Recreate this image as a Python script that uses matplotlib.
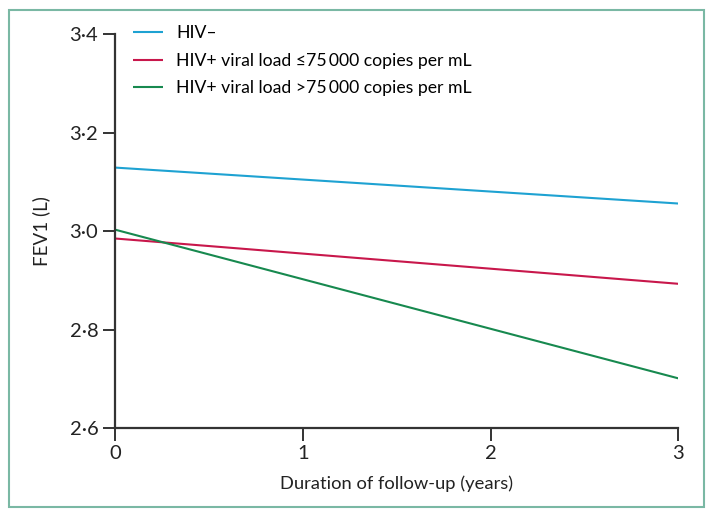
import matplotlib
matplotlib.use('Agg')
import matplotlib.pyplot as plt
from matplotlib.patches import Rectangle

plt.rcParams['font.family'] = ['Lato', 'DejaVu Sans']

years = [0, 3]
hiv_neg = [3.129, 3.056]
hiv_low = [2.985, 2.893]
hiv_high = [3.003, 2.701]
labels = ['HIV\u2013', 'HIV+ viral load \u226475\u2009000 copies per mL', 'HIV+ viral load >75\u2009000 copies per mL']
colors = ['#1ea2d2', '#c8174b', '#17894f']
yticks = [2.6, 2.8, 3.0, 3.2, 3.4]
xticks = [0, 1, 2, 3]

fig = plt.figure(figsize=(7.14, 5.17), dpi=100)
ax = fig.add_axes([0.161, 0.172, 0.789, 0.762])

for vals, lab, c in zip([hiv_neg, hiv_low, hiv_high], labels, colors):
    ax.plot(years, vals, color=c, lw=1.5, label=lab, solid_capstyle='butt')

ax.set_xlim(0, 3)
ax.set_ylim(2.6, 3.4)
ax.set_xticks(xticks)
ax.set_xticklabels([str(x) for x in xticks])
ax.set_yticks(yticks)
ax.set_yticklabels([f'{v:.1f}'.replace('.', '\u00b7') for v in yticks])
for s in ['top', 'right']:
    ax.spines[s].set_visible(False)
for s in ['left', 'bottom']:
    ax.spines[s].set_linewidth(1.6)
    ax.spines[s].set_color('#333333')
ax.tick_params(direction='out', length=9, width=1.4, color='#333333', labelsize=14.5, labelcolor='#222222', pad=3)
ax.set_xlabel('Duration of follow-up (years)', fontsize=13.2, color='#222222', labelpad=10)
ax.set_ylabel('FEV1 (L)', fontsize=13.5, color='#222222', labelpad=14)

ax.legend(loc='upper left', bbox_to_anchor=(0.02, 1.04), frameon=False, fontsize=12.7,
          handlelength=1.7, handletextpad=0.72, labelspacing=0.64, borderaxespad=0)

fig.patches.append(Rectangle((9 / 714, 1 - 507 / 517), 695 / 714, 497 / 517, transform=fig.transFigure,
                             fill=False, edgecolor='#7ab8a4', lw=1.5))

fig.savefig('out.png', dpi=100)
